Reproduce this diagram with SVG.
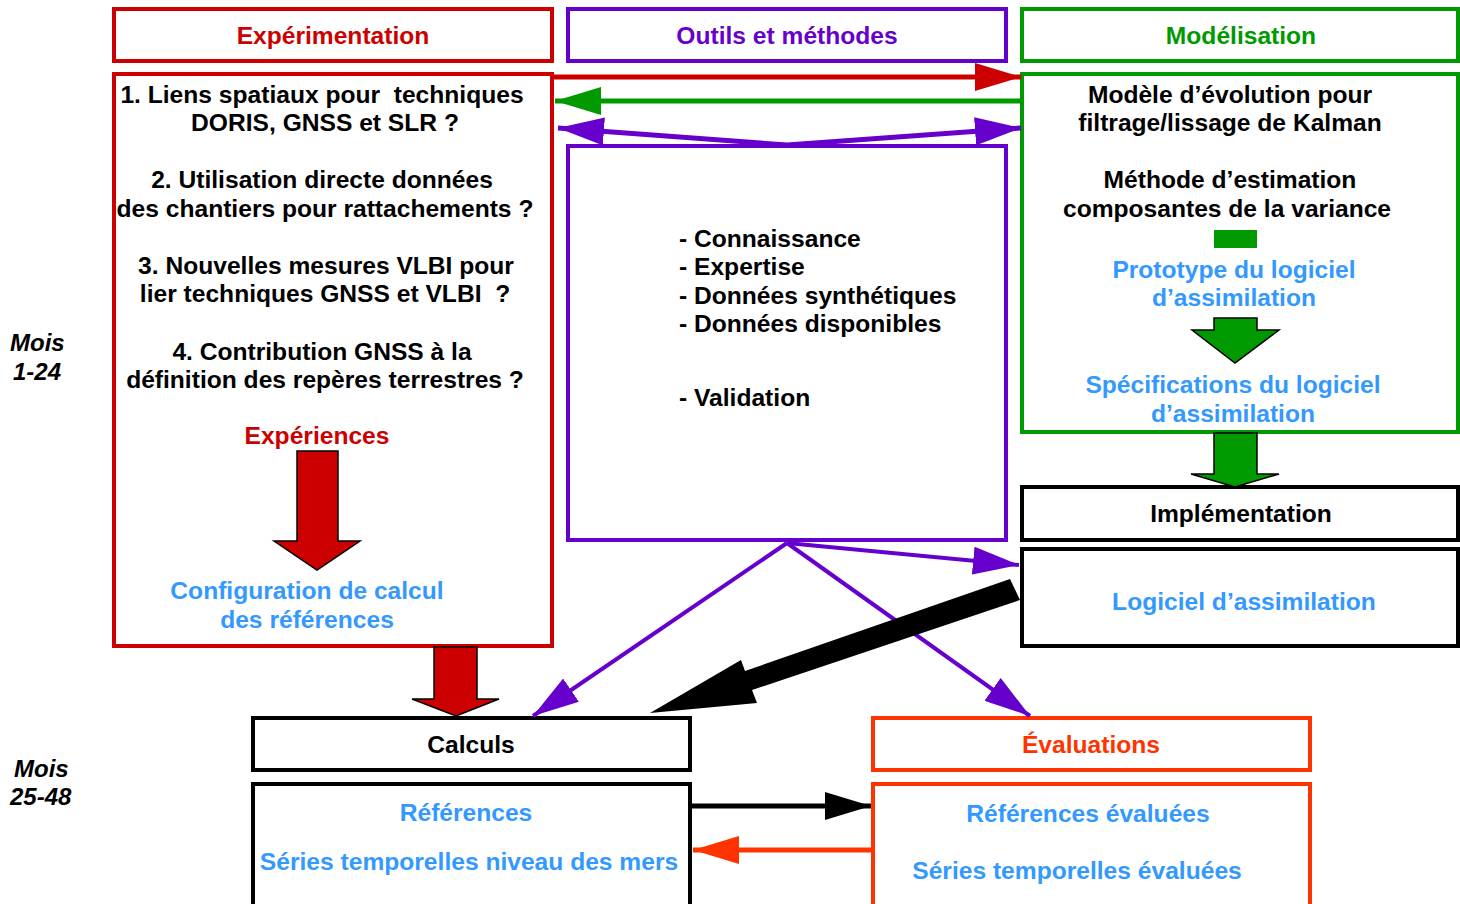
<svg xmlns="http://www.w3.org/2000/svg" width="1460" height="904" viewBox="0 0 1460 904">
<style>
text{font-family:"Liberation Sans",Arial,sans-serif;font-weight:bold;font-size:24.6px;text-anchor:middle;fill:#000}
.bl{fill:#3399ff}
.rd{fill:#cc0000}
.pu{fill:#6600cc}
.gr{fill:#009900}
.or{fill:#ff3300}
.mois{font-style:italic;text-anchor:start;font-size:24px}
.lt{text-anchor:start}
.box{fill:#fff;stroke-width:4}
</style>
<defs>
<marker id="mr" markerUnits="userSpaceOnUse" markerWidth="46" markerHeight="28" refX="46" refY="14" orient="auto"><path d="M0,0L46,14L0,28Z" fill="#cc0000"/></marker>
<marker id="mg" markerUnits="userSpaceOnUse" markerWidth="46" markerHeight="28" refX="46" refY="14" orient="auto"><path d="M0,0L46,14L0,28Z" fill="#009900"/></marker>
<marker id="mp" markerUnits="userSpaceOnUse" markerWidth="46" markerHeight="28" refX="46" refY="14" orient="auto"><path d="M0,0L46,14L0,28Z" fill="#6600cc"/></marker>
<marker id="mk" markerUnits="userSpaceOnUse" markerWidth="46" markerHeight="28" refX="46" refY="14" orient="auto"><path d="M0,0L46,14L0,28Z" fill="#000"/></marker>
<marker id="mo" markerUnits="userSpaceOnUse" markerWidth="46" markerHeight="28" refX="46" refY="14" orient="auto"><path d="M0,0L46,14L0,28Z" fill="#ff3300"/></marker>
</defs>

<g id="mois1"><text class="mois" x="10" y="351">Mois</text><text class="mois" x="13" y="380">1-24</text></g>
<g id="mois2"><text class="mois" x="14" y="777">Mois</text><text class="mois" x="10" y="805">25-48</text></g>

<g id="experimentation-header"><rect class="box" x="114" y="9" width="438" height="52" stroke="#cc0000"/><text class="rd" x="333" y="44">Expérimentation</text></g>
<g id="outils-header"><rect class="box" x="568" y="9" width="438" height="52" stroke="#6600cc"/><text class="pu" x="787" y="44">Outils et méthodes</text></g>
<g id="modelisation-header"><rect class="box" x="1022" y="9" width="436" height="52" stroke="#009900"/><text class="gr" x="1241" y="44">Modélisation</text></g>

<g id="experimentation-body">
<rect class="box" x="114" y="74" width="438" height="572" stroke="#cc0000"/>
<text x="322" y="103" xml:space="preserve">1. Liens spatiaux pour  techniques</text>
<text x="325" y="131">DORIS, GNSS et SLR ?</text>
<text x="322" y="188">2. Utilisation directe données</text>
<text x="325" y="217">des chantiers pour rattachements ?</text>
<text x="326" y="274">3. Nouvelles mesures VLBI pour</text>
<text x="325" y="302" xml:space="preserve">lier techniques GNSS et VLBI  ?</text>
<text x="322" y="360">4. Contribution GNSS à la</text>
<text x="325" y="388">définition des repères terrestres ?</text>
<text class="rd" x="317" y="444">Expériences</text>
<path d="M297,451H338V541H360L317,570L274,541H297Z" fill="#cc0000" stroke="#000" stroke-width="1.5"/>
<text class="bl" x="307" y="599">Configuration de calcul</text>
<text class="bl" x="307" y="628">des références</text>
</g>

<g id="outils-body">
<rect class="box" x="568" y="146" width="438" height="394" stroke="#6600cc"/>
<text class="lt" x="679" y="247">- Connaissance</text>
<text class="lt" x="679" y="275">- Expertise</text>
<text class="lt" x="679" y="304">- Données synthétiques</text>
<text class="lt" x="679" y="332">- Données disponibles</text>
<text class="lt" x="679" y="406">- Validation</text>
</g>

<g id="modelisation-body">
<rect class="box" x="1022" y="74" width="436" height="358" stroke="#009900"/>
<text x="1230" y="103">Modèle d’évolution pour</text>
<text x="1230" y="131">filtrage/lissage de Kalman</text>
<text x="1230" y="188">Méthode d’estimation</text>
<text x="1227" y="217">composantes de la variance</text>
<rect x="1214" y="230" width="43" height="18" fill="#009900"/>
<text class="bl" x="1234" y="278">Prototype du logiciel</text>
<text class="bl" x="1234" y="306">d’assimilation</text>
<path d="M1214,318H1257V330H1279L1235,363L1192,330H1214Z" fill="#009900" stroke="#000" stroke-width="1.5"/>
<text class="bl" x="1233" y="393">Spécifications du logiciel</text>
<text class="bl" x="1233" y="422">d’assimilation</text>
</g>

<g id="implementation"><rect class="box" x="1022" y="487" width="436" height="53" stroke="#000"/><text x="1241" y="522">Implémentation</text></g>
<g id="logiciel"><rect class="box" x="1022" y="549" width="436" height="97" stroke="#000"/><text class="bl" x="1244" y="610">Logiciel d’assimilation</text></g>

<g id="calculs"><rect class="box" x="253" y="718" width="437" height="52" stroke="#000"/><text x="471" y="753">Calculs</text></g>
<g id="references"><rect class="box" x="253" y="784" width="437" height="124" stroke="#000"/><text class="bl" x="466" y="821">Références</text><text class="bl" x="469" y="870">Séries temporelles niveau des mers</text></g>

<g id="evaluations"><rect class="box" x="873" y="718" width="437" height="52" stroke="#ff3300"/><text class="or" x="1091" y="753">Évaluations</text></g>
<g id="references-evaluees"><rect class="box" x="873" y="784" width="437" height="124" stroke="#ff3300"/><text class="bl" x="1088" y="822">Références évaluées</text><text class="bl" x="1077" y="879">Séries temporelles évaluées</text></g>

<g id="connectors" fill="none">
<line x1="554" y1="77" x2="1021" y2="77" stroke="#cc0000" stroke-width="5" marker-end="url(#mr)"/>
<line x1="1021" y1="101" x2="555" y2="101" stroke="#009900" stroke-width="5" marker-end="url(#mg)"/>
<line x1="787" y1="145" x2="558" y2="128" stroke="#6600cc" stroke-width="5" marker-end="url(#mp)"/>
<line x1="787" y1="145" x2="1021" y2="128" stroke="#6600cc" stroke-width="5" marker-end="url(#mp)"/>
<line x1="787" y1="543" x2="1019" y2="565" stroke="#6600cc" stroke-width="4" marker-end="url(#mp)"/>
<line x1="787" y1="543" x2="533" y2="716" stroke="#6600cc" stroke-width="4" marker-end="url(#mp)"/>
<line x1="787" y1="543" x2="1030" y2="716" stroke="#6600cc" stroke-width="4" marker-end="url(#mp)"/>
<path d="M1010,579L1020,600L752,690L757,703L650,713L741,660L745,671Z" fill="#000"/>
<line x1="692" y1="806" x2="871" y2="806" stroke="#000" stroke-width="5" marker-end="url(#mk)"/>
<line x1="871" y1="850" x2="693" y2="850" stroke="#ff3300" stroke-width="5" marker-end="url(#mo)"/>
<path d="M434,647H477V699H499L456,716L412,699H434Z" fill="#cc0000" stroke="#000" stroke-width="1.5"/>
<path d="M1214,433H1257V474H1279L1235,487L1191,474H1214Z" fill="#009900" stroke="#000" stroke-width="1.5"/>
</g>
</svg>
